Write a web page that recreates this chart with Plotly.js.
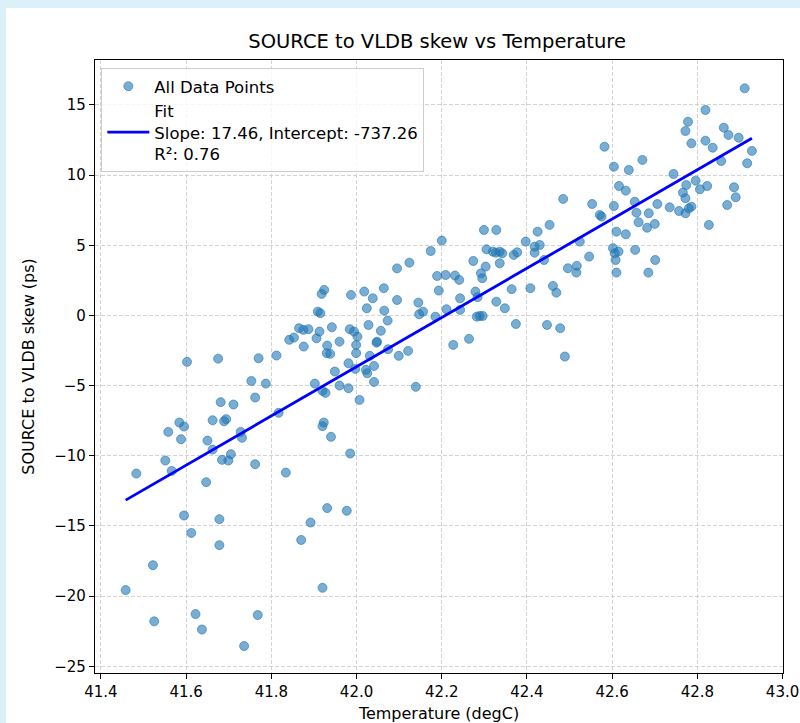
<!DOCTYPE html>
<html>
<head>
<meta charset="utf-8">
<script src="https://cdn.plot.ly/plotly-3.0.1.min.js"></script>
<style>
  html, body { margin: 0; padding: 0; background: #dcf0fa; width: 800px; height: 723px; overflow: hidden; }
  #plot { position: absolute; left: 6px; top: 8px; width: 794px; height: 715px; background: #ffffff; }
</style>
</head>
<body>
<div id="plot"></div>
<script>
// Temperature (degC) of each measured point
const temperature = [
  41.458, 41.483, 41.522, 41.525, 41.558, 41.551, 41.566, 41.584, 41.595, 41.588,
  41.602, 41.595, 41.612, 41.622, 41.637, 41.647, 41.650, 41.662, 41.662, 41.675,
  41.681, 41.678, 41.678, 41.689, 41.694, 41.684, 41.699, 41.705, 41.711, 41.728,
  41.731, 41.736, 41.753, 41.762, 41.762, 41.768, 41.770, 41.787, 41.812, 41.817,
  41.834, 41.842, 41.853, 41.870, 41.876, 41.865, 41.875, 41.887, 41.892, 41.902,
  41.906, 41.913, 41.920, 41.927, 41.923, 41.920, 41.920, 41.931, 41.940, 41.931,
  41.930, 41.938, 41.949, 41.960, 41.960, 41.981, 41.977, 41.985, 41.981, 41.997,
  41.999, 41.999, 42.007, 42.022, 42.025, 42.031, 42.041, 42.041, 42.047, 42.074,
  42.099, 42.121, 42.139, 41.942, 41.984, 41.994, 42.002,
  41.924, 41.918, 41.909, 41.915, 41.987, 42.018, 42.038, 42.064, 42.095, 42.095,
  42.024, 42.065, 42.073, 42.028, 42.057, 42.048, 42.145, 42.147, 42.156, 42.189,
  42.209, 42.193, 42.185, 42.211, 42.124,
  42.200, 42.299, 42.328, 42.453, 42.425, 42.397, 42.430, 42.305, 42.320, 42.336,
  42.342, 42.327, 42.369, 42.377, 42.336, 42.274, 42.303, 42.292, 42.295, 42.231,
  42.241, 42.243, 42.279, 42.284, 42.243, 42.328, 42.348, 42.364, 42.408, 42.418,
  42.418, 42.440, 42.524, 42.546, 42.496, 42.517, 42.516, 42.461, 42.469, 42.289,
  42.296, 42.282, 42.374, 42.447, 42.478, 42.264, 42.227, 42.489, 42.602, 42.610,
  42.606, 42.608, 42.610, 42.571, 42.575, 42.174, 42.615,
  42.911, 42.819, 42.778, 42.772, 42.786, 42.819, 42.836, 42.862, 42.873, 42.897,
  42.928, 42.917, 42.856, 42.582, 42.671, 42.639, 42.604, 42.744, 42.616, 42.632,
  42.796, 42.774, 42.823, 42.806, 42.766, 42.772, 42.886, 42.890, 42.870, 42.827,
  42.485, 42.553, 42.604, 42.653, 42.657, 42.686, 42.706, 42.735, 42.757, 42.772,
  42.780, 42.786, 42.662, 42.682, 42.700, 42.632, 42.654, 42.701, 42.685
];
// SOURCE to VLDB skew (ps) of each measured point
const skew = [
  -19.57, -11.27, -17.80, -21.80, -8.30, -10.34, -11.08, -7.63, -7.92, -8.82,
  -3.31, -14.26, -15.50, -21.28, -22.38, -11.88, -8.92, -7.47, -9.56, -3.08,
  -6.18, -14.52, -16.37, -7.54, -7.39, -10.29, -10.34, -9.89, -6.35, -8.30,
  -8.72, -23.56, -4.67, -5.85, -10.60, -21.35, -3.05, -4.86, -2.86, -6.94,
  -11.20, -1.74, -1.58, -16.00, -2.22, -0.91, -1.03, -0.98, -14.76, -4.86,
  -1.63, -1.15, -5.38, -5.52, -7.63, -7.89, -19.41, -13.73, -8.65, -2.15,
  -2.69, -2.74, -4.00, -5.00, -1.87, -5.19, -13.92, -9.84, -3.41, -3.81,
  -2.10, -2.69, -6.02, -3.88, -4.12, -2.88, -3.60, -4.74, -1.94, -2.41,
  -2.88, -2.53, -5.09, -0.84, -0.98, -1.15, -1.51,
  1.82, 1.53, 0.27, 0.16, 1.46, 1.70, 1.22, 1.94, 1.10, 3.35,
  0.51, 0.34, -0.37, -0.68, -1.10, -1.87, 0.91, 0.08, 0.27, 2.81,
  2.88, 1.77, -0.09, 0.44, 3.76,
  5.33, 6.09, 6.09, 6.45, 5.97, 5.26, 5.02, 4.71, 4.54, 4.54,
  4.43, 4.47, 4.31, 4.50, 3.72, 3.88, 3.48, 3.00, 2.65, 2.84,
  2.53, 1.22, 1.70, 1.30, 0.39, 0.98, 0.51, 1.87, 1.94, 4.90,
  4.47, 3.95, 5.26, 4.19, 3.36, 3.53, 3.05, 2.10, 1.62, -0.04,
  -0.04, -0.09, -0.61, -0.68, -0.91, -1.67, -2.10, -2.93, 4.79, 5.97,
  4.43, 3.95, 3.05, 7.16, 7.04, 4.59, 4.55,
  16.18, 14.64, 13.80, 13.14, 12.26, 12.45, 11.95, 13.38, 12.86, 12.66,
  11.72, 10.84, 11.00, 12.02, 11.08, 10.36, 10.60, 10.08, 9.22, 8.89,
  9.60, 9.29, 9.22, 8.99, 8.75, 8.35, 9.13, 8.42, 7.87, 6.45,
  8.30, 7.94, 7.80, 8.10, 7.32, 7.28, 7.94, 7.70, 7.44, 7.28,
  7.63, 7.75, 6.64, 6.25, 6.52, 5.78, 4.67, 3.95, 3.05
];
// Fit line end points as drawn
const fitX = [41.458, 42.928];
const fitY = [-13.16, 12.62];
const fitLabel = 'Fit<br>Slope: 17.46, Intercept: -737.26<br>R²: 0.76';
const xTicks = [41.4, 41.6, 41.8, 42.0, 42.2, 42.4, 42.6, 42.8, 43.0];
const yTicks = [-25, -20, -15, -10, -5, 0, 5, 10, 15];

const FONT = 'DejaVu Sans, Liberation Sans, sans-serif';

const traces = [
  {
    type: 'scatter', mode: 'markers', name: 'All Data Points',
    x: temperature, y: skew,
    marker: { color: 'rgba(31,119,180,0.6)', size: 9, line: { width: 1, color: 'rgba(31,119,180,0.6)' } }
  },
  {
    type: 'scatter', mode: 'lines', name: fitLabel,
    x: fitX, y: fitY,
    line: { color: '#0000ff', width: 2.8 }
  }
];

const axisCommon = {
  showline: true, mirror: true, linecolor: '#000000', linewidth: 1.1,
  ticks: 'outside', ticklen: 5, tickwidth: 1, tickcolor: '#000000',
  showgrid: true, gridcolor: '#c8c8c8', gridwidth: 0.8, griddash: '4px,2px',
  zeroline: false,
  tickfont: { family: FONT, size: 15, color: '#000000' }
};

const layout = {
  width: 794, height: 715,
  paper_bgcolor: '#ffffff', plot_bgcolor: '#ffffff',
  margin: { l: 88.7, r: 17, t: 52, b: 49.7 },
  font: { family: FONT, color: '#000000' },
  title: {
    text: 'SOURCE to VLDB skew vs Temperature',
    font: { family: FONT, size: 19.5, color: '#000000' },
    xref: 'container', x: 0.543, xanchor: 'center',
    yref: 'container', y: 0.953, yanchor: 'middle'
  },
  xaxis: Object.assign({}, axisCommon, {
    range: [41.386, 43.001],
    tickvals: xTicks, tickformat: '.1f',
    title: { text: 'Temperature (degC)', font: { family: FONT, size: 16, color: '#000000' }, standoff: 9 }
  }),
  yaxis: Object.assign({}, axisCommon, {
    range: [-25.48, 18.2],
    tickvals: yTicks, tickformat: 'd',
    title: { text: 'SOURCE to VLDB skew (ps)', font: { family: FONT, size: 16, color: '#000000' }, standoff: 15 }
  }),
  showlegend: true,
  legend: {
    x: 0.0092, y: 0.987, xanchor: 'left', yanchor: 'top',
    bgcolor: 'rgba(255,255,255,0.8)', bordercolor: '#cccccc', borderwidth: 1,
    font: { family: FONT, size: 16.5, color: '#000000' },
    itemwidth: 42, valign: 'middle', tracegroupgap: 0
  }
};

Plotly.newPlot('plot', traces, layout, { staticPlot: true, displayModeBar: false });
</script>
</body>
</html>
